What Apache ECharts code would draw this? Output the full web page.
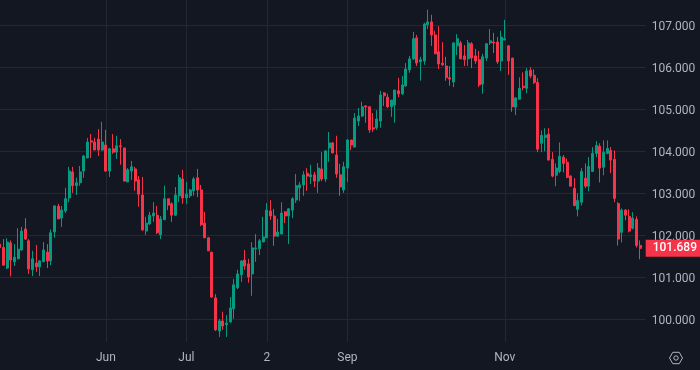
<!DOCTYPE html>
<html><head><meta charset="utf-8">
<style>html,body{margin:0;padding:0;background:#131722}#c{width:700px;height:370px}</style>
<script src="https://cdn.jsdelivr.net/npm/echarts@6/dist/echarts.min.js"></script>
</head><body><div id="c"></div>
<script>
const opens=[101.79,101.71,101.22,101.82,101.37,101.44,101.65,102.15,101.87,101.18,101.34,101.25,101.37,101.60,101.39,102.08,102.69,102.41,102.58,102.89,103.51,103.18,103.25,103.53,103.84,104.25,104.22,104.29,104.03,104.15,103.53,104.06,103.98,104.13,104.08,103.27,103.53,103.58,103.32,102.96,102.10,102.27,102.46,102.48,102.01,102.37,102.87,102.75,102.48,102.94,103.34,102.89,102.94,103.06,103.37,103.08,102.29,101.94,101.60,100.51,99.72,99.96,99.87,99.94,100.25,100.75,101.06,101.41,101.32,101.08,101.68,101.68,101.84,101.94,102.58,102.46,101.98,102.03,102.56,102.46,102.60,102.84,103.13,103.20,103.48,103.39,103.44,103.29,103.58,103.34,104.08,104.20,103.91,103.44,103.08,103.60,104.27,104.10,104.72,104.84,105.08,105.06,104.56,104.56,104.72,105.39,105.29,105.06,105.10,105.44,105.37,105.56,105.94,106.20,106.70,106.13,106.15,107.01,107.08,106.77,106.37,106.10,106.03,105.75,105.65,106.51,106.58,106.27,106.20,106.56,106.27,106.18,105.60,106.22,106.58,106.60,106.60,106.15,106.65,106.51,106.22,105.05,105.24,105.55,105.50,105.93,105.81,105.64,104.19,104.33,104.41,103.81,103.43,103.52,103.86,103.74,103.41,103.12,102.62,102.79,103.36,103.17,103.52,103.95,104.12,103.62,103.95,104.02,103.81,102.76,102.07,102.60,102.45,102.17,102.38,101.76];
const closes=[101.71,101.29,101.84,101.41,101.48,101.67,102.10,101.91,101.20,101.44,101.25,101.39,101.65,101.39,102.06,102.70,102.39,102.60,102.87,103.53,103.18,103.25,103.51,103.89,104.22,104.22,104.03,104.03,104.22,103.53,104.06,103.98,104.13,104.11,103.29,103.56,103.63,103.29,102.98,102.13,102.29,102.48,102.53,102.06,102.39,102.87,102.72,102.48,102.96,103.37,102.89,102.98,103.08,103.34,103.08,102.25,101.94,101.63,100.53,99.75,99.96,99.84,99.91,100.27,100.82,101.08,101.39,101.27,101.01,101.70,101.70,101.87,101.96,102.60,102.46,101.98,102.08,102.53,102.46,102.63,102.87,103.18,103.20,103.44,103.41,103.44,103.29,103.60,103.34,104.01,104.20,103.96,103.46,103.15,103.63,104.27,104.15,104.79,104.84,105.06,105.06,104.51,104.53,104.77,105.34,105.32,105.06,105.22,105.46,105.37,105.58,105.96,106.20,106.68,106.10,106.18,107.03,107.08,106.77,106.32,106.08,106.06,105.75,105.72,106.58,106.68,106.20,106.18,106.58,106.22,106.15,105.58,106.25,106.56,106.63,106.58,106.13,106.72,106.68,106.15,105.06,105.27,105.50,105.52,105.91,105.79,105.64,104.05,104.38,104.38,103.79,103.41,103.60,103.88,103.71,103.38,103.17,102.71,102.83,103.52,103.17,103.64,103.95,104.14,103.60,103.98,104.07,103.79,102.88,101.91,102.60,102.48,102.10,102.41,101.76,101.689];
const lows=[101.65,101.29,101.20,101.02,101.27,101.43,101.64,101.89,101.08,101.03,101.13,101.03,101.37,101.22,101.29,101.94,102.39,102.20,102.53,102.79,103.01,102.96,103.18,103.37,103.84,103.84,104.03,103.89,104.01,103.51,103.39,103.94,103.82,103.68,103.29,103.27,103.32,103.06,102.68,102.10,102.01,102.25,102.32,102.03,101.91,102.37,102.60,102.32,102.46,102.79,102.75,102.75,102.89,102.94,102.91,102.22,101.94,101.63,100.51,99.72,99.58,99.75,99.58,99.91,100.01,100.72,100.89,101.18,100.87,100.56,101.37,101.53,101.84,101.94,102.37,101.75,101.96,102.03,102.29,101.79,102.41,102.77,102.82,102.94,103.06,103.22,103.15,103.01,103.29,103.27,103.75,103.96,103.37,102.94,103.01,103.27,104.03,104.10,104.60,104.82,104.68,104.44,104.46,104.51,104.56,105.08,105.03,104.82,104.68,105.29,105.34,105.53,105.87,106.18,106.03,105.68,106.06,106.91,106.51,106.32,105.96,106.03,105.68,105.56,105.53,106.29,106.20,106.03,106.03,105.98,106.08,105.53,105.37,106.15,106.53,106.34,106.08,105.91,106.65,105.82,104.94,104.86,105.24,105.45,105.38,105.74,105.60,103.98,103.98,104.00,103.79,103.38,103.17,103.48,103.50,103.36,103.17,102.69,102.45,102.71,103.12,103.05,103.52,103.86,103.26,103.43,103.93,103.48,102.79,101.76,101.83,102.36,102.07,102.14,101.71,101.43];
const highs=[101.79,101.91,101.93,101.88,101.79,102.17,102.20,102.41,101.91,101.63,101.77,101.41,101.84,101.79,102.14,102.71,102.75,102.70,103.13,103.63,103.63,103.37,103.65,103.91,104.32,104.41,104.32,104.53,104.70,104.51,104.08,104.41,104.37,104.29,104.08,103.60,103.77,103.63,103.41,103.39,102.44,102.56,102.79,102.70,102.46,103.18,102.87,102.79,103.15,103.44,103.56,103.27,103.10,103.39,103.58,103.20,102.56,101.96,101.60,100.60,100.01,100.18,100.10,100.53,100.96,101.18,101.41,101.65,101.44,101.84,102.03,101.91,102.44,102.77,102.84,102.63,102.39,102.79,102.58,102.65,102.91,103.46,103.27,103.53,103.60,103.68,103.51,103.72,103.98,104.03,104.46,104.22,104.37,103.70,103.75,104.29,104.27,104.91,105.03,105.18,105.10,105.06,104.91,104.98,105.44,105.41,105.37,105.22,105.46,105.75,105.79,106.10,106.27,106.84,106.77,106.25,107.06,107.37,107.25,106.87,106.98,106.60,106.25,106.03,106.60,106.79,106.63,106.53,106.65,106.60,106.44,106.39,106.32,106.58,106.91,106.82,106.72,106.87,107.13,106.53,106.22,105.29,105.76,105.88,105.98,106.00,105.95,105.74,104.50,104.55,104.55,103.98,103.71,104.21,103.91,103.83,103.43,103.36,103.00,103.60,103.71,103.86,104.10,104.24,104.19,104.26,104.26,104.10,104.02,102.79,102.64,102.62,102.62,102.55,102.45,101.88];
const tickLabels=[[29,'Jun'],[51,'Jul'],[73,'2'],[95,'Sep'],[138,'Nov']];
const priceTicks=[100,101,102,103,104,105,106,107];
const lastPrice=101.689;

const labelAt={};tickLabels.forEach(t=>labelAt[t[0]]=t[1]);
const categories=[];for(let i=0;i<=opens.length;i++)categories.push(labelAt[i]||'');
const candles=opens.map((o,i)=>[o,closes[i],lows[i],highs[i]]);
const tickInterval=(i)=>labelAt[i]!==undefined;
const chart=echarts.init(document.getElementById('c'),null,{renderer:'canvas'});
const RED='#f7334a',GREEN='#089981',TXT='#b2b5be',GRID='#242833';
chart.setOption({
  animation:false,backgroundColor:'#131722',
  textStyle:{fontFamily:'Roboto'},
  grid:{left:-2.13,right:54.3,top:0,bottom:28,outerBoundsMode:'none'},
  xAxis:{type:'category',data:categories,boundaryGap:true,
    axisLine:{show:false},axisTick:{show:false},
    axisLabel:{interval:tickInterval,color:TXT,fontSize:12,fontFamily:'Roboto',margin:10,hideOverlap:false},
    splitLine:{show:true,interval:tickInterval,alignWithLabel:true,lineStyle:{color:GRID,width:1}}},
  yAxis:{type:'value',position:'right',scale:true,min:99.46,max:107.602,
    axisLine:{show:false},axisTick:{show:false,customValues:priceTicks},
    axisLabel:{color:TXT,fontSize:12,fontFamily:'Roboto',margin:6,customValues:priceTicks,
      rich:{p:{color:TXT,fontSize:12,fontFamily:'Roboto',padding:[3,0,0,0]}},
      formatter:v=>'{p|'+v.toFixed(3)+'}'},
    splitLine:{show:true,lineStyle:{color:GRID,width:1}}},
  series:[{type:'candlestick',data:candles,barWidth:2.5,clip:true,
    itemStyle:{color:GREEN,color0:RED,borderColor:GREEN,borderColor0:RED,borderWidth:1},
    markLine:{silent:true,symbol:'none',animation:false,precision:3,
      lineStyle:{color:'rgba(0,0,0,0)',width:0},
      label:{show:true,position:'end',distance:0,formatter:()=>lastPrice.toFixed(3),
        color:'#fff',backgroundColor:RED,fontFamily:'Roboto',fontSize:12,fontWeight:500,
        padding:[3,4,2,7],align:'left',lineHeight:12},
      data:[{yAxis:lastPrice}]}}],
  graphic:[
    {type:'polygon',silent:true,shape:{points:[[669.5,358],[672.8,352.3],[679.2,352.3],[682.5,358],[679.2,363.7],[672.8,363.7]]},style:{fill:'none',stroke:TXT,lineWidth:1}},
    {type:'circle',silent:true,shape:{cx:676,cy:358,r:2.2},style:{fill:'none',stroke:TXT,lineWidth:1}}
  ]
});
</script></body></html>
